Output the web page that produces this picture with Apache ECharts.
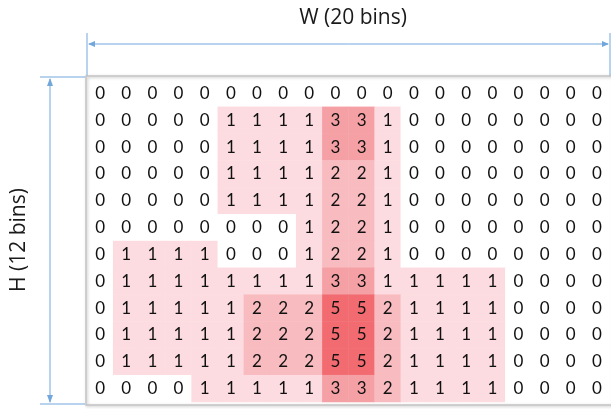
<!DOCTYPE html>
<html>
<head>
<meta charset="utf-8">
<script src="https://cdn.jsdelivr.net/npm/echarts@6/dist/echarts.min.js"></script>
<style>
  html, body { margin: 0; padding: 0; background: #fff; }
  #main { width: 611px; height: 409px; }
</style>
</head>
<body>
<div id="main"></div>
<script>
// bin indices
const xBins = ['0','1','2','3','4','5','6','7','8','9','10','11','12','13','14','15','16','17','18','19'];
const yBins = ['0','1','2','3','4','5','6','7','8','9','10','11'];

// counts per bin, one array per row (top to bottom)
const row0  = [0,0,0,0,0,0,0,0,0,0,0,0,0,0,0,0,0,0,0,0];
const row1  = [0,0,0,0,0,1,1,1,1,3,3,1,0,0,0,0,0,0,0,0];
const row2  = [0,0,0,0,0,1,1,1,1,3,3,1,0,0,0,0,0,0,0,0];
const row3  = [0,0,0,0,0,1,1,1,1,2,2,1,0,0,0,0,0,0,0,0];
const row4  = [0,0,0,0,0,1,1,1,1,2,2,1,0,0,0,0,0,0,0,0];
const row5  = [0,0,0,0,0,0,0,0,1,2,2,1,0,0,0,0,0,0,0,0];
const row6  = [0,1,1,1,1,0,0,0,1,2,2,1,0,0,0,0,0,0,0,0];
const row7  = [0,1,1,1,1,1,1,1,1,3,3,1,1,1,1,1,0,0,0,0];
const row8  = [0,1,1,1,1,1,2,2,2,5,5,2,1,1,1,1,0,0,0,0];
const row9  = [0,1,1,1,1,1,2,2,2,5,5,2,1,1,1,1,0,0,0,0];
const row10 = [0,1,1,1,1,1,2,2,2,5,5,2,1,1,1,1,0,0,0,0];
const row11 = [0,0,0,0,1,1,1,1,1,3,3,2,1,1,1,1,0,0,0,0];
const rows = [row0,row1,row2,row3,row4,row5,row6,row7,row8,row9,row10,row11];

let cells = [];
rows.forEach(function (r, y) {
  r.forEach(function (v, x) {
    cells.push([x, y, v]);
  });
});

// layout of the plot area
const gLeft = 87, gTop = 80, gW = 523, gH = 322;
const gRight = gLeft + gW, gBottom = gTop + gH;
const arrowColor = '#72a7dc';

const chart = echarts.init(document.getElementById('main'));

let option = {
  backgroundColor: '#fff',
  animation: false,
  grid: { left: gLeft, top: gTop, width: gW, height: gH },
  xAxis: {
    type: 'category', data: xBins, show: false,
    splitArea: { show: false }
  },
  yAxis: {
    type: 'category', data: yBins, show: false, inverse: true,
    splitArea: { show: false }
  },
  visualMap: {
    show: false,
    type: 'piecewise',
    dimension: 2,
    pieces: [
      { value: 0, color: '#ffffff' },
      { value: 1, color: '#fcdce0' },
      { value: 2, color: '#f8bbbf' },
      { value: 3, color: '#f5a0a4' },
      { value: 5, color: '#f16b70' }
    ]
  },
  graphic: [
    // frame around the grid
    {
      type: 'rect', z: 100, silent: true,
      shape: { x: gLeft - 1, y: gTop - 4, width: gW + 4, height: gH + 7 },
      style: { fill: null, stroke: '#c4c4c4', lineWidth: 1.5,
               shadowBlur: 3, shadowColor: 'rgba(0,0,0,0.25)', shadowOffsetX: 1, shadowOffsetY: 1 }
    },
    // width arrow
    { type: 'line', silent: true, shape: { x1: gLeft, y1: 33, x2: gLeft, y2: gTop - 4 }, style: { stroke: arrowColor, lineWidth: 1 } },
    { type: 'line', silent: true, shape: { x1: gRight, y1: 33, x2: gRight, y2: gTop - 4 }, style: { stroke: arrowColor, lineWidth: 1 } },
    { type: 'line', silent: true, shape: { x1: gLeft + 2, y1: 44, x2: gRight - 2, y2: 44 }, style: { stroke: arrowColor, lineWidth: 1 } },
    { type: 'polygon', silent: true, shape: { points: [[gLeft + 1, 44], [gLeft + 8, 41], [gLeft + 8, 47]] }, style: { fill: arrowColor } },
    { type: 'polygon', silent: true, shape: { points: [[gRight - 1, 44], [gRight - 8, 41], [gRight - 8, 47]] }, style: { fill: arrowColor } },
    {
      type: 'text', silent: true, x: 353, y: 18,
      style: { text: 'W (20 bins)', fill: '#1a1a1a', font: '21px "Open Sans", sans-serif', align: 'center', verticalAlign: 'middle' }
    },
    // height arrow
    { type: 'line', silent: true, shape: { x1: 40, y1: gTop - 3, x2: gLeft - 2, y2: gTop - 3 }, style: { stroke: arrowColor, lineWidth: 1 } },
    { type: 'line', silent: true, shape: { x1: 40, y1: gBottom + 2, x2: gLeft - 2, y2: gBottom + 2 }, style: { stroke: arrowColor, lineWidth: 1 } },
    { type: 'line', silent: true, shape: { x1: 50, y1: gTop - 1, x2: 50, y2: gBottom }, style: { stroke: arrowColor, lineWidth: 1 } },
    { type: 'polygon', silent: true, shape: { points: [[50, gTop - 2], [47, gTop + 6], [53, gTop + 6]] }, style: { fill: arrowColor } },
    { type: 'polygon', silent: true, shape: { points: [[50, gBottom + 1], [47, gBottom - 7], [53, gBottom - 7]] }, style: { fill: arrowColor } },
    {
      type: 'text', silent: true, x: 19, y: 240, rotation: Math.PI / 2,
      style: { text: 'H (12 bins)', fill: '#1a1a1a', font: '21px "Open Sans", sans-serif', align: 'center', verticalAlign: 'middle' }
    }
  ],
  series: [{
    type: 'heatmap',
    data: cells,
    label: {
      show: true,
      color: '#111',
      fontSize: 17,
      fontFamily: 'Lato'
    },
    itemStyle: { borderWidth: 0 },
    emphasis: { disabled: true }
  }]
};

chart.setOption(option);
</script>
</body>
</html>
